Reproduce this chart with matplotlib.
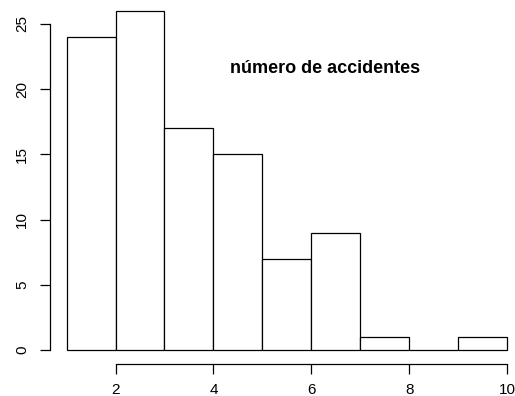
import matplotlib
matplotlib.use("Agg")
import matplotlib.pyplot as plt

# Histogram of the number of accidents (bins of width 1 from 1 to 10)
bin_edges = [1, 2, 3, 4, 5, 6, 7, 8, 9, 10]
counts = [24, 26, 17, 15, 7, 9, 1, 0, 1]
x_ticks = [2, 4, 6, 8, 10]
y_ticks = [0, 5, 10, 15, 20, 25]
title = "número de accidentes"

plt.rcParams["font.family"] = ["Liberation Sans", "DejaVu Sans"]

fig = plt.figure(figsize=(5.15, 3.96), dpi=100)
ax = fig.add_axes([66.6 / 515, 46 / 396, 440.4 / 515, 345.8 / 396])

lefts = bin_edges[:-1]
widths = [b - a for a, b in zip(bin_edges[:-1], bin_edges[1:])]
ax.bar(lefts, counts, width=widths, align="edge", facecolor="white",
       edgecolor="black", linewidth=0.9, clip_on=False)

ax.set_xlim(bin_edges[0], bin_edges[-1])
ax.set_ylim(0, 26.5)

# detached R-style axes
for side in ("top", "right"):
    ax.spines[side].set_visible(False)
ax.spines["left"].set_position(("outward", 12))
ax.spines["bottom"].set_position(("outward", 10))
ax.spines["left"].set_bounds(y_ticks[0], y_ticks[-1])
ax.spines["bottom"].set_bounds(x_ticks[0], x_ticks[-1])
for side in ("left", "bottom"):
    ax.spines[side].set_linewidth(0.9)

ax.set_xticks(x_ticks)
ax.set_yticks(y_ticks)
ax.tick_params(axis="both", length=7, width=0.9, labelsize=11, colors="black")
ax.tick_params(axis="y", pad=8)
ax.tick_params(axis="x", pad=7)
for lab in ax.get_yticklabels():
    lab.set_rotation(90)
    lab.set_va("center")

ax.text(6.28, 21.6, title, fontsize=13, fontweight="bold",
        ha="center", va="center")

fig.savefig("out.png", dpi=100)
